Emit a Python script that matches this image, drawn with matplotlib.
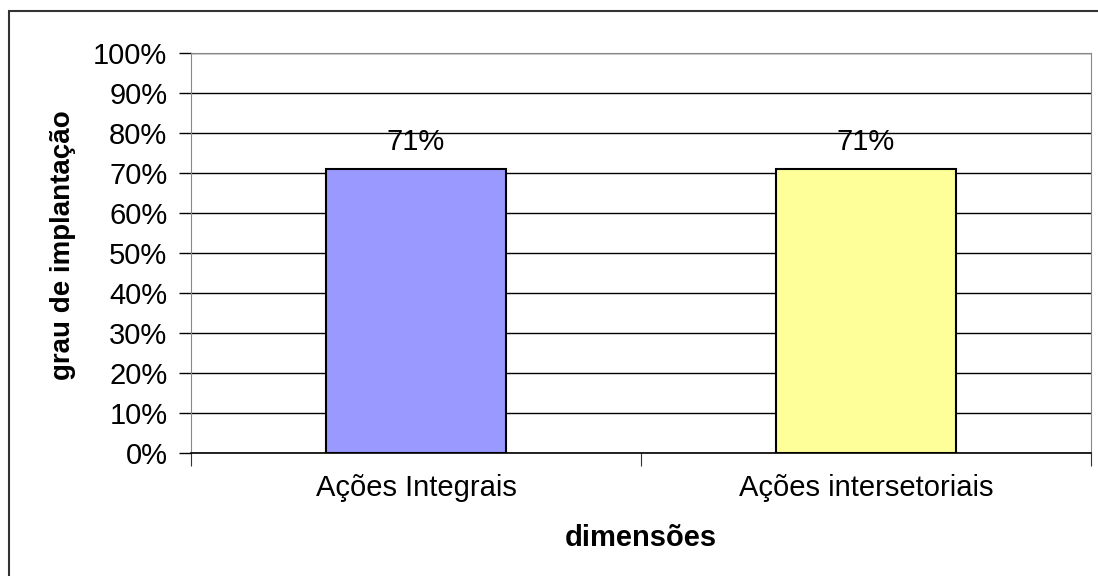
import matplotlib.pyplot as plt
from matplotlib.patches import Rectangle
from matplotlib.ticker import PercentFormatter

plt.rcParams['font.family'] = ['Liberation Sans', 'DejaVu Sans']

categorias = ['Ações Integrais', 'Ações intersetoriais']
grau = [71, 71]
cores = ['#9999FF', '#FFFF99']

fig = plt.figure(figsize=(10.98, 5.76), dpi=100)
# moldura externa (so aparecem os lados esquerdo e superior)
fig.patches.append(Rectangle((9 / 1098, -0.05), 1.2, 1 - 11 / 576 + 0.05,
                             transform=fig.transFigure, fill=False,
                             edgecolor='#333333', lw=1.5))

ax = fig.add_axes([191 / 1098, 1 - 453 / 576, 900 / 1098, 400 / 576])
x = range(len(categorias))
ax.bar(x, grau, width=0.4, color=cores, edgecolor='black', lw=1.5, zorder=3)
for xi, v in zip(x, grau):
    ax.text(xi, v + 3.2, f'{v}%', ha='center', va='bottom', fontsize=21)

ax.set_xlim(-0.5, 1.5)
ax.set_ylim(0, 100)
ax.set_yticks(range(0, 101, 10))
ax.yaxis.set_major_formatter(PercentFormatter(decimals=0))
ax.grid(axis='y', color='black', lw=1, zorder=0)
ax.set_xticks([-0.5, 0.5, 1.5])
ax.set_xticklabels([])
ax.set_xticks(list(x), minor=True)
ax.set_xticklabels(categorias, minor=True, fontsize=21)
ax.tick_params(axis='x', which='major', direction='out', length=9, color='#333333')
ax.tick_params(axis='x', which='minor', length=0, pad=15)
ax.tick_params(axis='y', length=9, width=1, color='black', labelsize=21, pad=8)

for s in ['left', 'top', 'right']:
    ax.spines[s].set_color('#888888')
ax.spines['bottom'].set_color('black')
ax.spines['bottom'].set_linewidth(1.2)

fig.text(641 / 1098, 1 - 538 / 576, 'dimensões', ha='center', va='center',
         fontsize=21, fontweight='bold')
fig.text(63 / 1098, 1 - 245 / 576, 'grau de implantação', rotation=90,
         ha='center', va='center', fontsize=20, fontweight='bold')

fig.savefig('out.png', dpi=100)
